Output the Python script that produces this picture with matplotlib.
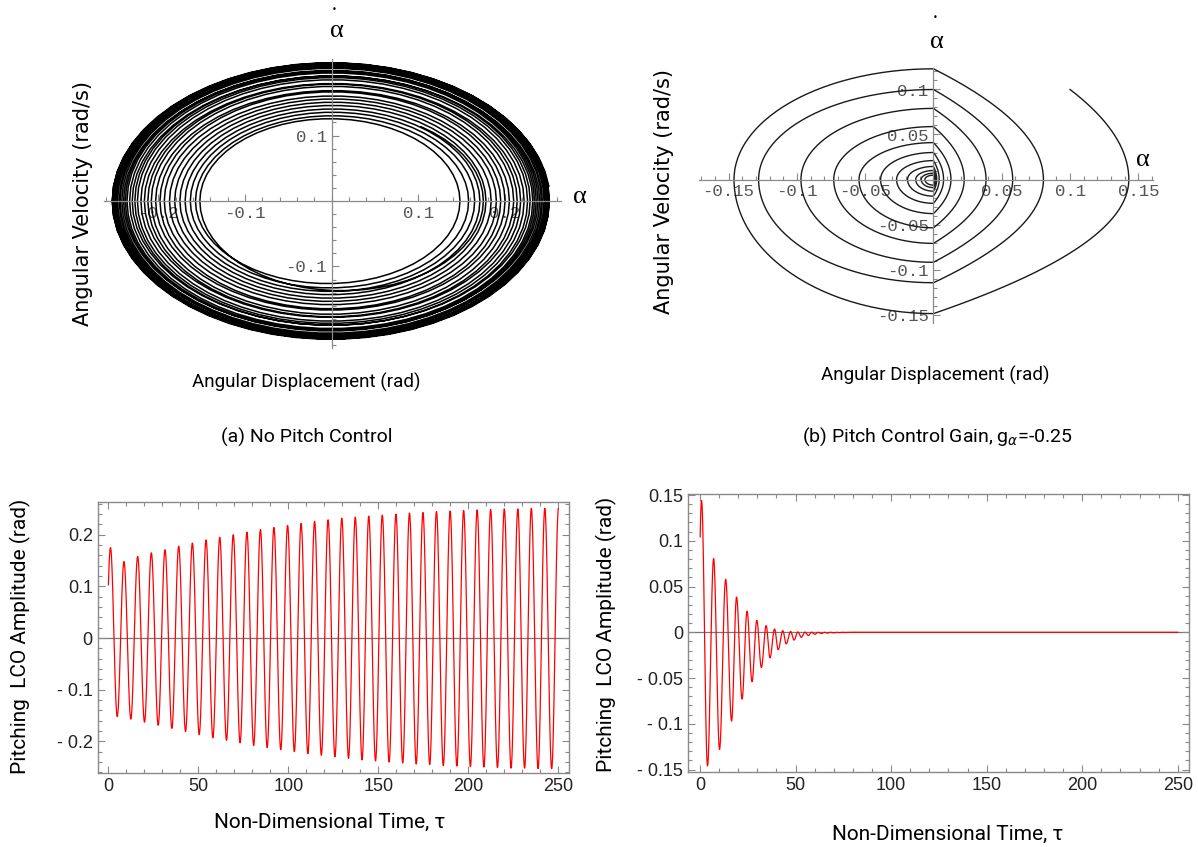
import numpy as np
import matplotlib.pyplot as plt
from matplotlib.ticker import MultipleLocator

W, H = 1198, 847

# ---- (a) no pitch control: extrema of the pitch history
lco_max_t = [1.2, 8.7, 16.3, 23.9, 31.5, 39.1, 46.7, 54.3, 61.9, 69.4, 77.0, 84.5,
             92.0, 99.6, 107.1, 114.6, 122.1, 129.7, 137.2, 144.7, 152.2, 159.8,
             167.3, 174.8, 182.3, 189.9, 197.4, 204.9, 212.4, 220.0, 227.5, 235.0,
             242.5, 250.1]
lco_max = [0.175, 0.148, 0.158, 0.165, 0.171, 0.178, 0.184, 0.190, 0.195, 0.200,
           0.205, 0.210, 0.214, 0.218, 0.222, 0.226, 0.229, 0.232, 0.234, 0.236,
           0.238, 0.240, 0.242, 0.243, 0.245, 0.246, 0.247, 0.248, 0.249, 0.250,
           0.250, 0.251, 0.251, 0.252]
lco_min_t = [4.95, 12.5, 20.1, 27.7, 35.3, 42.9, 50.5, 58.1, 65.65, 73.2, 80.75,
             88.25, 95.8, 103.35, 110.85, 118.35, 125.9, 133.45, 140.95, 148.45,
             156.0, 163.55, 171.05, 178.55, 186.1, 193.65, 201.15, 208.65, 216.2,
             223.75, 231.25, 238.75, 246.3]
lco_min = [-0.152, -0.157, -0.163, -0.169, -0.175, -0.181, -0.187, -0.193, -0.198,
           -0.203, -0.208, -0.212, -0.216, -0.220, -0.224, -0.227, -0.230, -0.233,
           -0.236, -0.238, -0.240, -0.242, -0.244, -0.245, -0.247, -0.248, -0.249,
           -0.250, -0.251, -0.252, -0.252, -0.253, -0.253]

# ---- (b) pitch control gain -0.25: alternating max/min of the pitch history
ctl_t = [0.8, 3.9, 7.1, 10.2, 13.4, 16.5, 19.1, 22.0, 24.6, 27.2, 29.7, 32.1, 34.6,
         36.6, 39.0, 40.9, 43.3, 45.1, 47.4, 49.2, 51.2, 53.0, 54.9, 56.7, 58.4,
         60.1, 61.8, 63.5, 65.1, 66.7, 68.3, 69.9, 71.4, 73.0, 74.5, 76.0, 77.5,
         79.0, 80.4, 250.0]
ctl_a = [0.144, -0.146, 0.0806, -0.128, 0.058, -0.097, 0.0385, -0.073, 0.023,
         -0.054, 0.013, -0.0385, 0.0073, -0.028, 0.0036, -0.019, 0.0018, -0.0127,
         0.0009, -0.0085, 0.0004, -0.0055, 0.0002, -0.0035, 0.0001, -0.0022, 0.0,
         -0.0014, 0.0, -0.0009, 0.0, -0.0006, 0.0, -0.0004, 0.0, -0.0002, 0.0,
         -0.0001, 0.0, 0.0]

# phase plane crossings of panel (b)
start_pt = (0.1, 0.1)
right_peak = [0.143, 0.0805, 0.058, 0.0385, 0.0225, 0.0128, 0.0074, 0.0042, 0.0024, 0.0014, 0.0008]
bottom_vel = [-0.149, -0.1147, -0.092, -0.071, -0.0537, -0.0379, -0.0265, -0.0185, -0.013, -0.009, -0.0063]
left_peak = [-0.146, -0.128, -0.097, -0.073, -0.0545, -0.0387, -0.027, -0.019, -0.013, -0.009, -0.0063]
top_vel = [0.123, 0.100, 0.079, 0.0588, 0.041, 0.030, 0.021, 0.0145, 0.010, 0.007, 0.0048]


def through_extrema(t_ext, a_ext, t_end, n=30):
    t_ext = list(t_ext)
    a_ext = list(a_ext)
    # mirror the first half swing so the curve runs back to tau = 0
    t_ext.insert(0, 2 * t_ext[0] - t_ext[1])
    a_ext.insert(0, a_ext[1])
    ts, xs, vs = [], [], []
    s = np.linspace(0, 1, n)
    for i in range(len(t_ext) - 1):
        t0, t1, a0, a1 = t_ext[i], t_ext[i + 1], a_ext[i], a_ext[i + 1]
        ts.append(t0 + (t1 - t0) * s)
        xs.append(0.5 * (a0 + a1) + 0.5 * (a0 - a1) * np.cos(np.pi * s))
        vs.append(-0.5 * (a0 - a1) * np.sin(np.pi * s) * np.pi / (t1 - t0))
    t, x, v = np.concatenate(ts), np.concatenate(xs), np.concatenate(vs)
    keep = (t >= 0) & (t <= t_end)
    return t[keep], x[keep], v[keep]


def controlled_portrait(n=60):
    xs, vs = [], []
    for i, A in enumerate(right_peak):
        if i == 0:
            a0, v0 = start_pt
            w0 = np.sqrt(1 - a0 / A)
            vtop = v0 / w0
        else:
            w0, vtop = 1.0, top_vel[i - 1]
        w = np.linspace(w0, 0, n)
        xs.append(A * (1 - w ** 2)); vs.append(vtop * w)
        w = np.linspace(0, 1, n)
        xs.append(A * (1 - w ** 2)); vs.append(bottom_vel[i] * w)
        th = np.linspace(0, np.pi / 2, n)
        L = left_peak[i]
        xs.append(L * np.sin(th)); vs.append(bottom_vel[i] * np.cos(th))
        xs.append(L * np.cos(th)); vs.append(top_vel[i] * np.sin(th))
    return np.concatenate(xs), np.concatenate(vs)


lco_t = [v for pair in zip(lco_max_t, lco_min_t) for v in pair] + [lco_max_t[-1]]
lco_a = [v for pair in zip(lco_max, lco_min) for v in pair] + [lco_max[-1]]
t1, x1, v1 = through_extrema(lco_t, lco_a, 250)
t2, x2, _ = through_extrema(ctl_t, ctl_a, 250)
px, pv = controlled_portrait()

mono = 'Liberation Mono'
narrow = 'Roboto'
greek = 'Liberation Serif'
axis_gray = '#8a8a8a'
tick_gray = '#555555'

fig = plt.figure(figsize=(W / 100, H / 100), dpi=100)


def box(l, t, r, b):
    return fig.add_axes([l / W, 1 - b / H, (r - l) / W, (b - t) / H])


def phase_axes(ax, xmaj, xmin, xlabels, ymaj, ymin, ylabels):
    for s in ['top', 'right']:
        ax.spines[s].set_visible(False)
    ax.spines['left'].set_position(('data', 0))
    ax.spines['bottom'].set_position(('data', 0))
    for s in ['left', 'bottom']:
        ax.spines[s].set_color(axis_gray)
        ax.spines[s].set_linewidth(0.9)
    ax.set_xticks(xmaj, xlabels)
    ax.set_yticks(ymaj, ylabels)
    ax.xaxis.set_minor_locator(MultipleLocator(xmin))
    ax.yaxis.set_minor_locator(MultipleLocator(ymin))
    ax.tick_params(which='both', direction='in', color=axis_gray, width=0.8,
                   labelcolor=tick_gray, labelsize=12.5)
    ax.tick_params(which='major', length=5)
    ax.tick_params(which='minor', length=3)
    for lab in ax.get_xticklabels() + ax.get_yticklabels():
        lab.set_family(mono)
    ax.patch.set_visible(False)


# ---- top left: phase portrait, no control
ax = box(103.6, 58.9, 561.4, 347.7)
ax.plot(x1, v1, color='black', lw=1.1)
ax.set_xlim(-0.263, 0.265)
ax.set_ylim(-0.224, 0.217)
phase_axes(ax, [-0.2, -0.1, 0.1, 0.2], 0.02, ['-0.2', '-0.1', '0.1', '0.2'],
           [-0.1, 0.1], 0.02, ['-0.1', '0.1'])
fig.text(580 / W, 1 - 197 / H, 'α', family=greek, fontsize=19, ha='center', va='center')
fig.text(337 / W, 1 - 31 / H, 'α', family=greek, fontsize=19, ha='center', va='center')
fig.text(334 / W, 1 - 9 / H, '•', fontsize=6, ha='center', va='center')
fig.text(83 / W, 1 - 204 / H, 'Angular Velocity (rad/s)', rotation=90, fontsize=15,
         ha='center', va='center')
fig.text(306 / W, 1 - 382 / H, 'Angular Displacement (rad)', family=narrow, fontsize=13.5,
         ha='center', va='center')
fig.text(307 / W, 1 - 437 / H, '(a) No Pitch Control', family=narrow, fontsize=14,
         ha='center', va='center')

# ---- top right: phase portrait, pitch control
ax = box(698.5, 67.9, 1153.4, 322.6)
ax.plot(px, pv, color='#1a1a1a', lw=1.0)
ax.set_xlim(-0.172, 0.161)
ax.set_ylim(-0.159, 0.124)
phase_axes(ax, [-0.15, -0.1, -0.05, 0.05, 0.1, 0.15], 0.01,
           ['-0.15', '-0.1', '-0.05', '0.05', '0.1', '0.15'],
           [-0.15, -0.1, -0.05, 0.05, 0.1], 0.01, ['-0.15', '-0.1', '-0.05', '0.05', '0.1'])
fig.text(1143 / W, 1 - 160 / H, 'α', family=greek, fontsize=19, ha='center', va='center')
fig.text(937 / W, 1 - 42 / H, 'α', family=greek, fontsize=19, ha='center', va='center')
fig.text(935 / W, 1 - 17 / H, '•', fontsize=6, ha='center', va='center')
fig.text(664 / W, 1 - 192 / H, 'Angular Velocity (rad/s)', rotation=90, fontsize=15,
         ha='center', va='center')
fig.text(935 / W, 1 - 375 / H, 'Angular Displacement (rad)', family=narrow, fontsize=13.5,
         ha='center', va='center')
fig.text(937 / W, 1 - 437 / H, r'(b) Pitch Control Gain, g$_{\alpha}$=-0.25', family=narrow,
         fontsize=14, ha='center', va='center')


def history_axes(ax, ymaj, ylabels, ymin):
    for s in ax.spines.values():
        s.set_color(axis_gray)
        s.set_linewidth(1.0)
    ax.axhline(0, color='#777777', lw=0.9, zorder=1)
    ax.set_xticks([0, 50, 100, 150, 200, 250], ['0', '50', '100', '150', '200', '250'])
    ax.set_yticks(ymaj, ylabels)
    ax.xaxis.set_minor_locator(MultipleLocator(10))
    ax.yaxis.set_minor_locator(MultipleLocator(ymin))
    ax.tick_params(which='both', direction='in', top=True, right=True, color=axis_gray,
                   width=0.8, labelsize=13, labelcolor='#222222')
    ax.tick_params(which='major', length=5)
    ax.tick_params(which='minor', length=3)
    for lab in ax.get_xticklabels() + ax.get_yticklabels():
        lab.set_family('Liberation Sans')


# ---- bottom left: pitch history, no control
ax = box(97.7, 501.7, 569.3, 773.3)
ax.plot(t1, x1, color='#ff0000', lw=0.9, zorder=2)
ax.set_xlim(-5.9, 256.1)
ax.set_ylim(-0.262, 0.264)
history_axes(ax, [-0.2, -0.1, 0, 0.1, 0.2], ['- 0.2', '- 0.1', '0', '0.1', '0.2'], 0.02)
fig.text(20 / W, 1 - 636 / H, 'Pitching  LCO Amplitude (rad)', family=narrow, rotation=90,
         fontsize=15, ha='center', va='center')
fig.text(330 / W, 1 - 822 / H, 'Non-Dimensional Time, τ', family=narrow, fontsize=15,
         ha='center', va='center')

# ---- bottom right: pitch history, pitch control
ax = box(688, 494.1, 1189, 772.3)
ax.plot(t2, x2, color='#ff0000', lw=0.9, zorder=2)
ax.set_xlim(-6.3, 255.9)
ax.set_ylim(-0.153, 0.151)
history_axes(ax, [-0.15, -0.1, -0.05, 0, 0.05, 0.1, 0.15],
             ['- 0.15', '- 0.1', '- 0.05', '0', '0.05', '0.1', '0.15'], 0.01)
fig.text(606 / W, 1 - 634 / H, 'Pitching  LCO Amplitude (rad)', family=narrow, rotation=90,
         fontsize=15, ha='center', va='center')
fig.text(948 / W, 1 - 834 / H, 'Non-Dimensional Time, τ', family=narrow, fontsize=15,
         ha='center', va='center')

fig.savefig('out.png', dpi=100, facecolor='white')
